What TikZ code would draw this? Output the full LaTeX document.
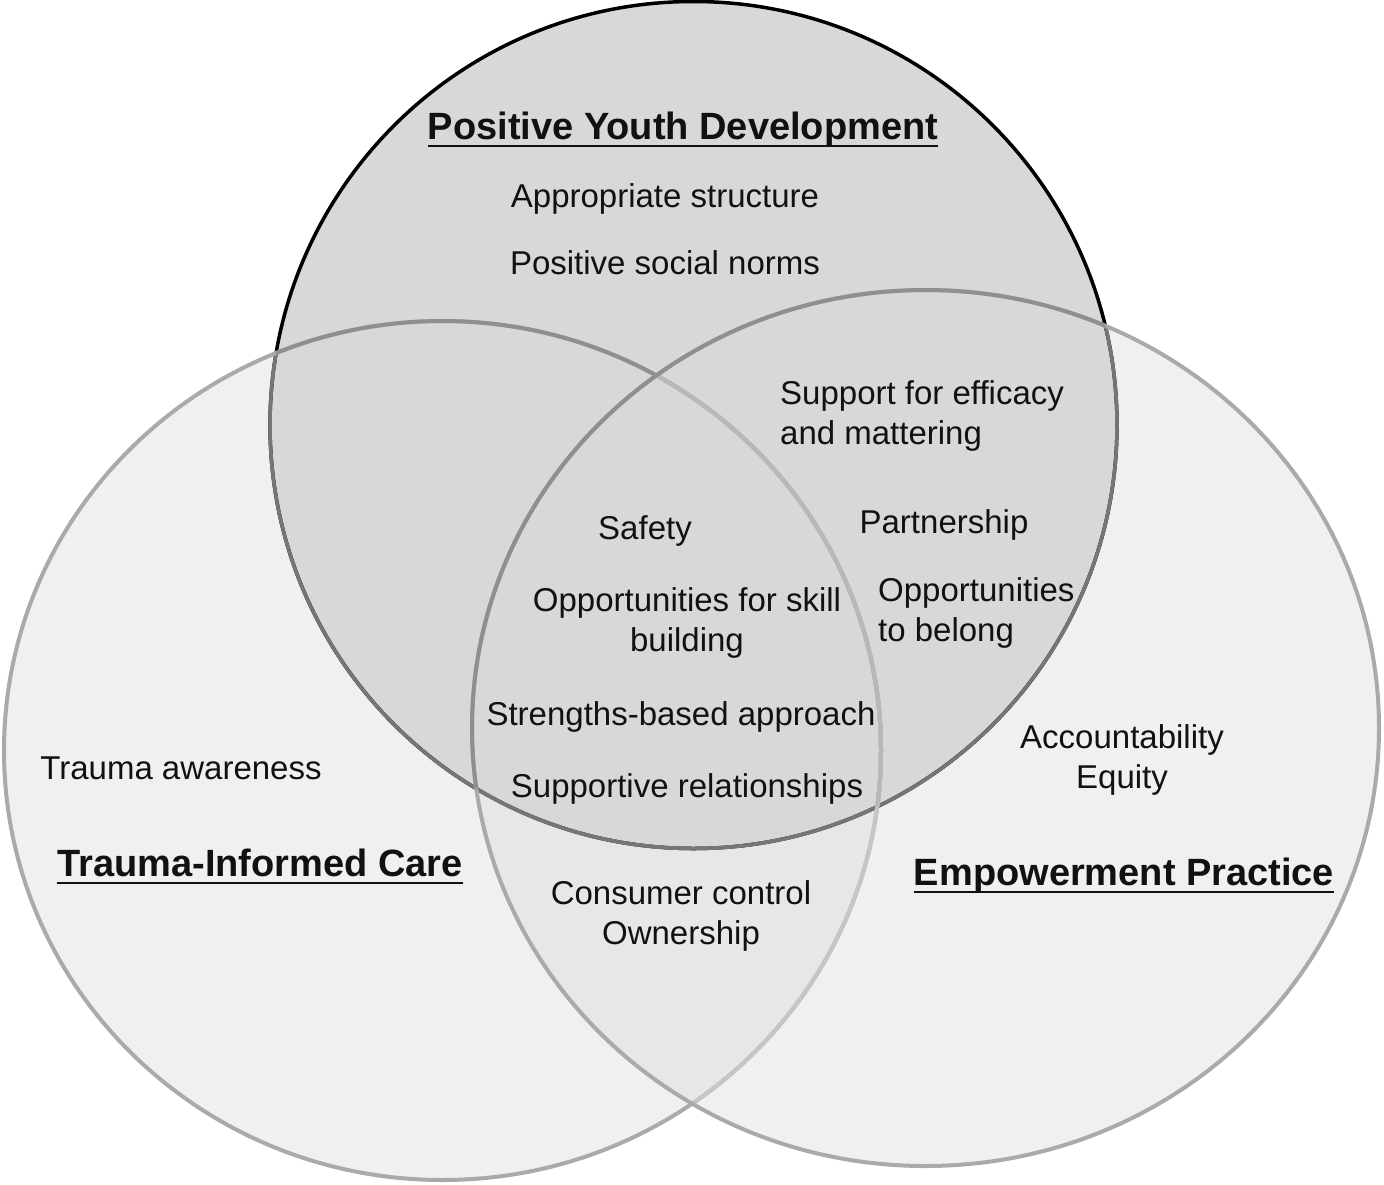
\documentclass[tikz,border=0pt]{standalone}
\usepackage{fontspec}
\setmainfont{Liberation Sans}
\definecolor{fillSide}{HTML}{F0F0F0}
\definecolor{fillPair}{HTML}{E7E7E7}
\definecolor{fillTop}{HTML}{D8D8D8}
\definecolor{lineSide}{HTML}{AAAAAA}
\definecolor{lineSideIn}{HTML}{8F8F8F}
\definecolor{lineUnder}{HTML}{C6C6C6}
\definecolor{lineUnderTop}{HTML}{B8B8B8}
\definecolor{lineTopUnder}{HTML}{767676}
\definecolor{txt}{HTML}{111111}
\begin{document}
\begin{tikzpicture}[x=1pt,y=-1pt,
  lbl/.style={inner sep=0pt, font=\fontsize{33}{40}\selectfont, text=txt},
  ttl/.style={inner sep=0pt, font=\fontsize{38}{46}\selectfont\bfseries, text=txt},
  sideline/.style={line width=4pt},
  topline/.style={line width=3.5pt}]
\useasboundingbox (0,0) rectangle (1384,1184);
\def\Lshape{(442.5,750.5) ellipse [x radius=438.5pt, y radius=429.5pt]}
\def\Rshape{(925.5,728) ellipse [x radius=453.5pt, y radius=438pt]}
\def\Tshape{(693.5,425) circle [radius=423.5pt]}
% fills
\fill[fillSide] \Lshape;
\fill[fillSide] \Rshape;
\begin{scope}
  \clip \Lshape;
  \fill[fillPair] \Rshape;
\end{scope}
\fill[fillTop] \Tshape;
% top circle outline
\draw[topline, black] \Tshape;
\begin{scope}
  \clip \Lshape;
  \draw[topline, lineTopUnder] \Tshape;
\end{scope}
\begin{scope}
  \clip \Rshape;
  \draw[topline, lineTopUnder] \Tshape;
\end{scope}
% left circle outline
\draw[sideline, lineSide] \Lshape;
\begin{scope}
  \clip \Tshape;
  \draw[sideline, lineSideIn] \Lshape;
\end{scope}
\begin{scope}
  \clip \Rshape;
  \draw[sideline, lineUnder] \Lshape;
\end{scope}
\begin{scope}
  \clip \Rshape;
  \clip \Tshape;
  \draw[sideline, lineUnderTop] \Lshape;
\end{scope}
% right circle outline
\draw[sideline, lineSide] \Rshape;
\begin{scope}
  \clip \Tshape;
  \draw[sideline, lineSideIn] \Rshape;
\end{scope}
% titles
\node[ttl, anchor=base] (pyd) at (683,139) {Positive Youth Development};
\node[ttl, anchor=base] (tic) at (260,876) {Trauma-Informed Care};
\node[ttl, anchor=base] (emp) at (1124,885) {Empowerment Practice};
\foreach \n in {pyd,tic,emp}
  \draw[line width=2.8pt, txt] ([yshift=-7pt]\n.base west) -- ([yshift=-7pt]\n.base east);
% labels
\node[lbl, anchor=base] (a1) at (665,207) {Appropriate structure};
\node[lbl, anchor=base] (a2) at (665,274) {Positive social norms};
\node[lbl, anchor=base west] (b1) at (780,404) {Support for efficacy};
\node[lbl, anchor=base west] (b2) at (780,444) {and mattering};
\node[lbl, anchor=base] (c1) at (645,539) {Safety};
\node[lbl, anchor=base] (d1) at (944,533) {Partnership};
\node[lbl, anchor=base] (e1) at (687,611) {Opportunities for skill};
\node[lbl, anchor=base] (e2) at (687,651) {building};
\node[lbl, anchor=base west] (f1) at (878,601) {Opportunities};
\node[lbl, anchor=base west] (f2) at (878,641) {to belong};
\node[lbl, anchor=base] (g1) at (681,725) {Strengths-based approach};
\node[lbl, anchor=base] (h1) at (687,797) {Supportive relationships};
\node[lbl, anchor=base] (i1) at (181,779) {Trauma awareness};
\node[lbl, anchor=base] (j1) at (1122,748) {Accountability};
\node[lbl, anchor=base] (j2) at (1122,788) {Equity};
\node[lbl, anchor=base] (k1) at (681,904) {Consumer control};
\node[lbl, anchor=base] (k2) at (681,944) {Ownership};
\end{tikzpicture}
\end{document}
